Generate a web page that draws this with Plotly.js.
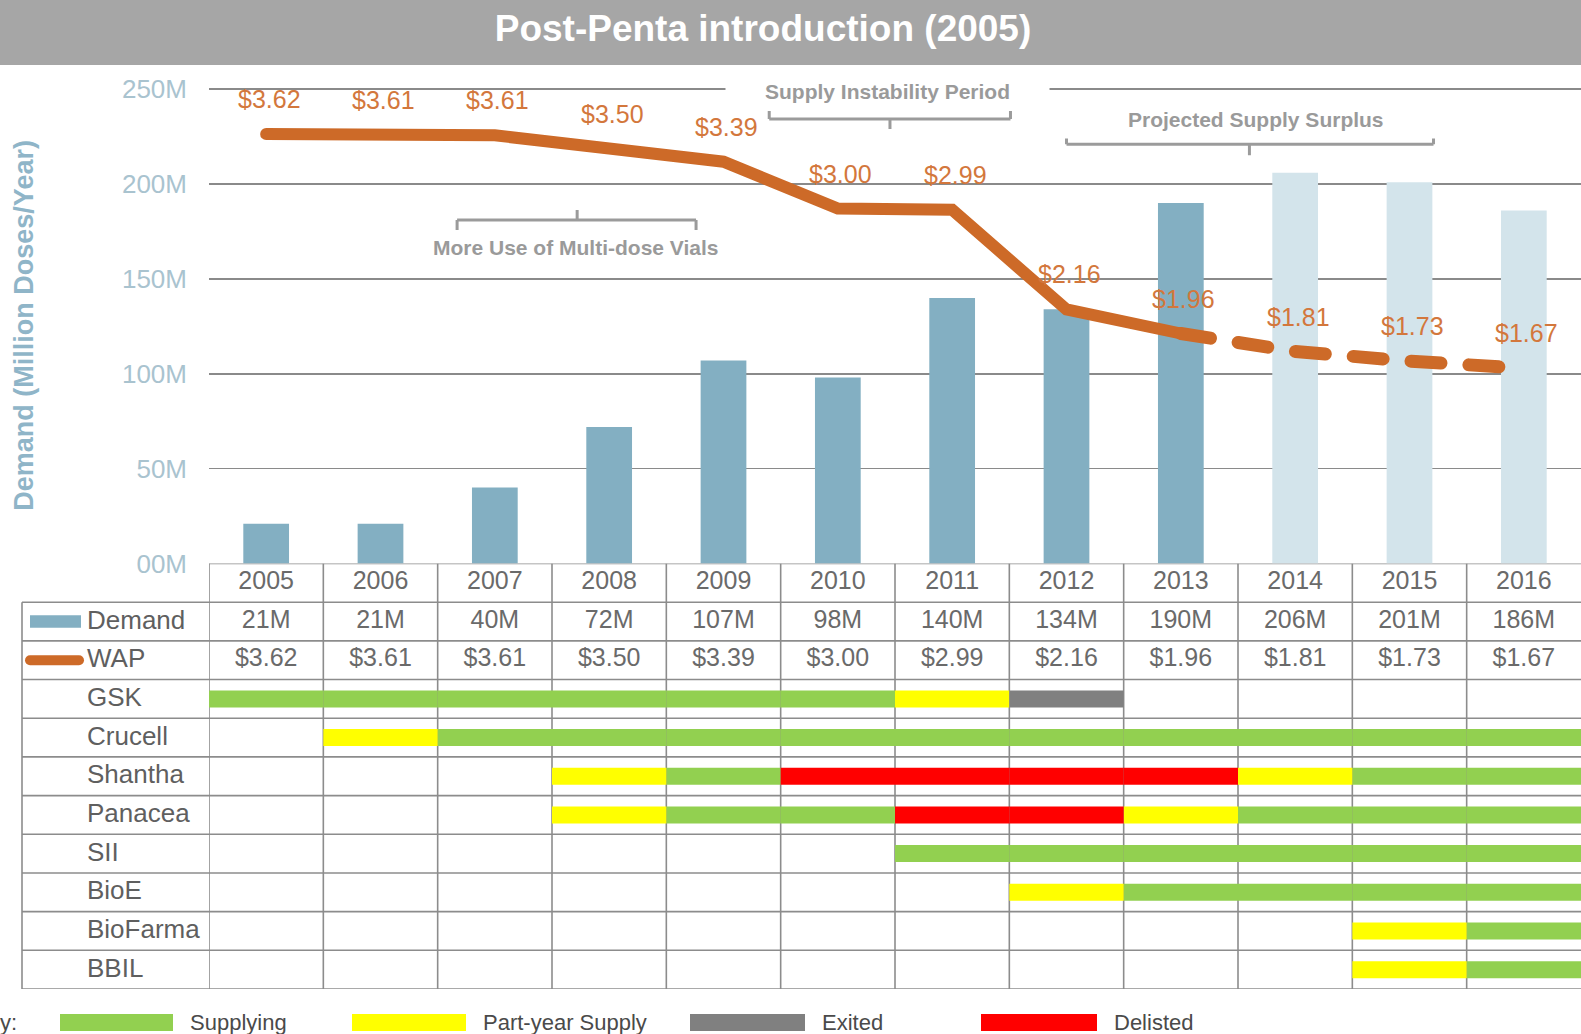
<!DOCTYPE html>
<html>
<head>
<meta charset="utf-8">
<script src="https://cdn.plot.ly/plotly-3.0.1.min.js"></script>
<style>
  html, body { margin: 0; padding: 0; background: #fff; }
  #chart { width: 1581px; height: 1034px; }
</style>
</head>
<body>
<div id="chart"></div>
<script>
// ---------------- DATA ----------------
const years = ['2005','2006','2007','2008','2009','2010','2011','2012','2013','2014','2015','2016'];
const demandM = [21, 21, 40, 72, 107, 98, 140, 134, 190, 206, 201, 186];
const wapUSD = [3.62, 3.61, 3.61, 3.50, 3.39, 3.00, 2.99, 2.16, 1.96, 1.81, 1.73, 1.67];
const projectedYears = ['2014', '2015', '2016'];
const lastActualYear = '2013';
const yTickVals = [0, 50, 100, 150, 200, 250];
const yTickText = ['00M', '50M', '100M', '150M', '200M', '250M'];

const suppliers = ['GSK', 'Crucell', 'Shantha', 'Panacea', 'SII', 'BioE', 'BioFarma', 'BBIL'];
// S = Supplying, P = Part-year Supply, X = Exited, D = Delisted, '' = none
const statusGSK      = ['S','S','S','S','S','S','P','X','','','',''];
const statusCrucell  = ['','P','S','S','S','S','S','S','S','S','S','S'];
const statusShantha  = ['','','','P','S','D','D','D','D','P','S','S'];
const statusPanacea  = ['','','','P','S','S','D','D','P','S','S','S'];
const statusSII      = ['','','','','','','S','S','S','S','S','S'];
const statusBioE     = ['','','','','','','','P','S','S','S','S'];
const statusBioFarma = ['','','','','','','','','','','P','S'];
const statusBBIL     = ['','','','','','','','','','','P','S'];
const statusKeys  = ['S', 'P', 'X', 'D'];
const statusNames = ['Supplying', 'Part-year Supply', 'Exited', 'Delisted'];

const periodLabels = ['Supply Instability Period', 'Projected Supply Surplus', 'More Use of Multi-dose Vials'];
const rowLabels = ['Demand', 'WAP'];

// ---------------- STYLE / GEOMETRY ----------------
const W = 1581, H = 1034;
const px = x => x / W;
const py = y => 1 - y / H;
const FONT = 'Liberation Sans, Arial, Helvetica, sans-serif';
const colActual = '#83afc2';
const colProjected = '#d3e4eb';
const colOrange = '#cd6a28';
const colOrangeText = '#d3773c';
const statusColors = { S: '#92d050', P: '#ffff00', X: '#808080', D: '#ff0000' };
const lineGray = '#8c8c8c';
const bracketGray = '#9b9b9b';

const statusBySupplier = {
  GSK: statusGSK, Crucell: statusCrucell, Shantha: statusShantha, Panacea: statusPanacea,
  SII: statusSII, BioE: statusBioE, BioFarma: statusBioFarma, BBIL: statusBBIL
};
const rowKeys = ['year', 'demand', 'wap'].concat(suppliers);

const xDomain = [px(209), 1];
const mainDomain = [py(563.5), py(87.3)];
const tableDomain = [py(989), py(563.5)];

// ---------------- TRACES ----------------
const traces = [];

// Demand bars
traces.push({
  type: 'bar', x: years, y: demandM, xaxis: 'x', yaxis: 'y', width: 0.4,
  marker: { color: years.map(y => projectedYears.includes(y) ? colProjected : colActual), line: { width: 0 } },
  hoverinfo: 'skip', showlegend: false
});

// WAP line: solid (actual) and dashed (projected)
const splitIdx = years.indexOf(lastActualYear);
traces.push({
  type: 'scatter', mode: 'lines', x: years.slice(0, splitIdx + 1), y: wapUSD.slice(0, splitIdx + 1),
  xaxis: 'x', yaxis: 'y2', line: { color: colOrange, width: 12 }, hoverinfo: 'skip', showlegend: false
});
traces.push({
  type: 'scatter', mode: 'lines', x: years.slice(splitIdx), y: wapUSD.slice(splitIdx),
  xaxis: 'x', yaxis: 'y2', line: { color: colOrange, width: 13, dash: '30px,28px' }, hoverinfo: 'skip', showlegend: false
});

// Supplier timeline cells
statusKeys.forEach((k, si) => {
  const ys = [], bases = [], xs = [];
  suppliers.forEach(s => {
    statusBySupplier[s].forEach((st, i) => {
      if (st === k) { ys.push(s); bases.push(i - 0.5); xs.push(1); }
    });
  });
  traces.push({
    type: 'bar', orientation: 'h', x: xs, y: ys, base: bases, width: 0.44,
    xaxis: 'x2', yaxis: 'y3', name: statusNames[si],
    marker: { color: statusColors[k], line: { width: 0 } }, hoverinfo: 'skip', showlegend: false
  });
});

// Table text rows
const idx = years.map((_, i) => i);
const tableFont = { family: FONT, size: 25, color: '#6a6a6a' };
traces.push({ type: 'scatter', mode: 'text', x: idx, y: years.map(() => 'year'), text: years,
  xaxis: 'x2', yaxis: 'y3', textfont: tableFont, hoverinfo: 'skip', showlegend: false });
traces.push({ type: 'scatter', mode: 'text', x: idx, y: years.map(() => 'demand'), text: demandM.map(v => v + 'M'),
  xaxis: 'x2', yaxis: 'y3', textfont: tableFont, hoverinfo: 'skip', showlegend: false });
traces.push({ type: 'scatter', mode: 'text', x: idx, y: years.map(() => 'wap'), text: wapUSD.map(v => '$' + v.toFixed(2)),
  xaxis: 'x2', yaxis: 'y3', textfont: tableFont, hoverinfo: 'skip', showlegend: false });

// ---------------- SHAPES ----------------
const shapes = [];
// Title banner
shapes.push({ type: 'rect', xref: 'paper', yref: 'paper', x0: 0, x1: 1, y0: py(65), y1: 1.01,
  fillcolor: '#a6a6a6', line: { width: 0 }, layer: 'below' });

// Table horizontal lines
shapes.push({ type: 'line', xref: 'paper', yref: 'y3', x0: px(209), x1: 1, y0: -0.5, y1: -0.5,
  line: { color: lineGray, width: 1.6 }, layer: 'below' });
for (let k = 0; k < rowKeys.length; k++) {
  shapes.push({ type: 'line', xref: 'paper', yref: 'y3', x0: px(22), x1: 1, y0: k + 0.5, y1: k + 0.5,
    line: { color: lineGray, width: 1.6 }, layer: 'below' });
}
// Table vertical lines
for (let c = 0; c < years.length; c++) {
  shapes.push({ type: 'line', xref: 'x2', yref: 'y3', x0: c - 0.5, x1: c - 0.5, y0: -0.5, y1: rowKeys.length - 0.5,
    line: { color: lineGray, width: 1.6 }, layer: 'below' });
}
shapes.push({ type: 'line', xref: 'paper', yref: 'y3', x0: px(22), x1: px(22), y0: 0.5, y1: rowKeys.length - 0.5,
  line: { color: lineGray, width: 1.6 }, layer: 'below' });

// Row label swatches
shapes.push({ type: 'rect', xref: 'paper', yref: 'y3', x0: px(30), x1: px(81), y0: 1 - 0.16, y1: 1 + 0.16,
  fillcolor: colActual, line: { width: 0 } });
shapes.push({ type: 'line', xref: 'paper', yref: 'y3', x0: px(30), x1: px(79), y0: 2, y1: 2,
  line: { color: colOrange, width: 10 } });

// Brackets (in axis units)
function bracket(xl, xr, xc, yh, yEnd, yTick) {
  const st = { color: bracketGray, width: 3 };
  shapes.push({ type: 'line', xref: 'x', yref: 'y', x0: xl, x1: xr, y0: yh, y1: yh, line: st });
  shapes.push({ type: 'line', xref: 'x', yref: 'y', x0: xl, x1: xl, y0: yh, y1: yEnd, line: st });
  shapes.push({ type: 'line', xref: 'x', yref: 'y', x0: xr, x1: xr, y0: yh, y1: yEnd, line: st });
  shapes.push({ type: 'line', xref: 'x', yref: 'y', x0: xc, x1: xc, y0: yh, y1: yTick, line: st });
}
bracket(4.40, 6.51, 5.456, 234.3, 238.5, 229.0);
bracket(7.00, 10.21, 8.60, 221.0, 224.0, 215.2);
bracket(1.67, 3.76, 2.72, 181.1, 175.8, 186.3);

// Key swatches
const keyX = [[60, 173], [352, 466], [690, 805], [981, 1097]];
statusKeys.forEach((k, i) => {
  shapes.push({ type: 'rect', xref: 'paper', yref: 'paper', x0: px(keyX[i][0]), x1: px(keyX[i][1]),
    y0: py(1031), y1: py(1014), fillcolor: statusColors[k], line: { width: 0 } });
});

// ---------------- ANNOTATIONS ----------------
const annotations = [];
// WAP value labels (x given as category index)
years.forEach((yr, i) => {
  annotations.push({ x: i, y: wapUSD[i], xref: 'x', yref: 'y2', yshift: 35, xshift: 3, showarrow: false,
    xanchor: 'center', yanchor: 'middle',
    text: '$' + wapUSD[i].toFixed(2), font: { family: FONT, size: 25, color: colOrangeText } });
});
// Period labels
const periodFont = { family: FONT, size: 21, color: '#9a9a9a', weight: 700 };
annotations.push({ x: 5.435, y: 249.05, xref: 'x', yref: 'y', showarrow: false, text: periodLabels[0],
  font: periodFont, bgcolor: '#ffffff', width: 323, height: 28, borderpad: 0, yanchor: 'middle' });
annotations.push({ x: 8.658, y: 233.8, xref: 'x', yref: 'y', showarrow: false, text: periodLabels[1], font: periodFont, yanchor: 'middle' });
annotations.push({ x: 2.71, y: 166.8, xref: 'x', yref: 'y', showarrow: false, text: periodLabels[2], font: periodFont, yanchor: 'middle' });

// Row labels
const rowFont = { family: FONT, size: 26, color: '#5f5f5f' };
annotations.push({ x: px(85), y: 'demand', xref: 'paper', yref: 'y3', xanchor: 'left', yanchor: 'middle', yshift: 2, showarrow: false, text: rowLabels[0], font: rowFont });
annotations.push({ x: px(85), y: 'wap', xref: 'paper', yref: 'y3', xanchor: 'left', yanchor: 'middle', yshift: 2, showarrow: false, text: rowLabels[1], font: rowFont });
suppliers.forEach(s => {
  annotations.push({ x: px(85), y: s, xref: 'paper', yref: 'y3', xanchor: 'left', yanchor: 'middle', yshift: 2, showarrow: false, text: s, font: rowFont });
});

// Key labels
const keyFont = { family: FONT, size: 22, color: '#4a4a4a' };
annotations.push({ x: px(19), y: py(1022), xref: 'paper', yref: 'paper', xanchor: 'right', yanchor: 'middle', showarrow: false, text: 'Key:', font: keyFont });
statusNames.forEach((n, i) => {
  annotations.push({ x: px(keyX[i][1] + 15), y: py(1022), xref: 'paper', yref: 'paper', xanchor: 'left', yanchor: 'middle', showarrow: false, text: n, font: keyFont });
});

// ---------------- LAYOUT ----------------
const layout = {
  width: W, height: H,
  margin: { l: 0, r: 0, t: 0, b: 0, pad: 0 },
  paper_bgcolor: '#ffffff', plot_bgcolor: 'rgba(0,0,0,0)',
  font: { family: FONT },
  hovermode: false, barmode: 'overlay', showlegend: false,
  title: { text: 'Post-Penta introduction (2005)', x: 0.4826, xanchor: 'center', y: py(28), yanchor: 'middle',
    font: { family: FONT, size: 37, color: '#ffffff', weight: 700 } },
  xaxis: { domain: xDomain, anchor: 'y', type: 'category', categoryorder: 'array', categoryarray: years,
    range: [-0.5, years.length - 0.5], showticklabels: false, showgrid: false, zeroline: false, showline: false, ticks: '' },
  yaxis: { domain: mainDomain, anchor: 'x', range: [0, 251], tickvals: yTickVals, ticktext: yTickText,
    showgrid: true, gridcolor: '#8a8a8a', gridwidth: 1.6, zeroline: false, showline: false, ticks: '',
    ticklabelstandoff: 21, tickfont: { family: FONT, size: 26, color: '#a9c3cf' },
    title: { text: 'Demand (Million Doses/Year)', standoff: 80, font: { family: FONT, size: 27, color: '#8fb5c8', weight: 700 } } },
  yaxis2: { domain: mainDomain, overlaying: 'y', anchor: 'x', range: [0.045, 4.0098], visible: false },
  xaxis2: { domain: xDomain, anchor: 'y3', range: [-0.5, years.length - 0.5], visible: false },
  yaxis3: { domain: tableDomain, anchor: 'x2', type: 'category', categoryorder: 'array', categoryarray: rowKeys,
    range: [rowKeys.length - 0.5, -0.5], visible: false },
  shapes: shapes,
  annotations: annotations
};

Plotly.newPlot('chart', traces, layout, { staticPlot: true, displayModeBar: false }).then(() => {
  document.querySelectorAll('.scatterlayer .js-line').forEach(p => { p.style.strokeLinecap = 'round'; });
  document.querySelectorAll('.shapelayer path').forEach(p => {
    if ((p.getAttribute('style') || '').indexOf('stroke-width: 10') >= 0) p.style.strokeLinecap = 'round';
  });
});
</script>
</body>
</html>
